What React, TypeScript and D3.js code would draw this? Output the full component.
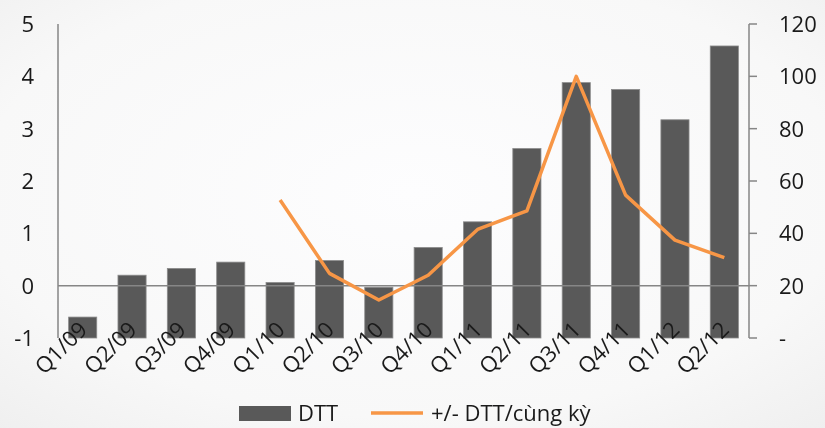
import * as d3 from "d3"

const quarters = ["Q1/09", "Q2/09", "Q3/09", "Q4/09", "Q1/10", "Q2/10", "Q3/10", "Q4/10", "Q1/11", "Q2/11", "Q3/11", "Q4/11", "Q1/12", "Q2/12"]
// DTT (left axis)
const dtt = [-0.6, 0.2, 0.33, 0.45, 0.06, 0.48, -0.03, 0.73, 1.22, 2.62, 3.88, 3.75, 3.17, 4.58]
// +/- DTT/cùng kỳ (right axis), starts at Q1/10
const growth: (number | null)[] = [null, null, null, null, 52.7, 24.7, 14.5, 24, 41.5, 48.6, 100, 54.6, 37.4, 30.7]
const leftTicks = [-1, 0, 1, 2, 3, 4, 5]
const rightTicks = [0, 20, 40, 60, 80, 100, 120]

const W = 825
const H = 428
const margin = { top: 24, right: 76, bottom: 90, left: 58 }
const FONT = "'Open Sans', 'DejaVu Sans', sans-serif"
const BAR = "#595959"
const ORANGE = "#F79646"
const AXIS = "#868686"

export default function App() {
  const x = d3
    .scaleBand()
    .domain(quarters)
    .range([margin.left, W - margin.right])
    .paddingInner(0.43)
    .paddingOuter(0.215)
  const yL = d3.scaleLinear().domain([-1, 5]).range([H - margin.bottom, margin.top])
  const yR = d3.scaleLinear().domain([0, 120]).range([H - margin.bottom, margin.top])

  const pts = quarters.map((q, i) => ({ q, v: growth[i] })).filter((d) => d.v !== null) as { q: string; v: number }[]
  const line = d3
    .line<{ q: string; v: number }>()
    .x((d) => (x(d.q) ?? 0) + x.bandwidth() / 2)
    .y((d) => yR(d.v))

  const x0 = margin.left
  const x1 = W - margin.right
  const yBase = yL(-1)

  return (
    <div style={{ position: "fixed", left: 0, top: 0 }}>
      <svg width={W} height={H} style={{ display: "block", fontFamily: FONT }}>
        <defs>
          <radialGradient id="bg" cx="50%" cy="45%" r="75%">
            <stop offset="0%" stopColor="#fdfdfe" />
            <stop offset="70%" stopColor="#f8f8f8" />
            <stop offset="100%" stopColor="#efefef" />
          </radialGradient>
        </defs>
        <rect width={W} height={H} fill="url(#bg)" />

        {/* bars */}
        {quarters.map((q, i) => {
          const top = yL(dtt[i])
          return (
            <rect
              key={q}
              x={x(q)}
              y={Math.min(top, yBase)}
              width={x.bandwidth()}
              height={Math.abs(yBase - top)}
              fill={BAR}
              stroke="#8c8c8c"
              strokeWidth={0.8}
            />
          )
        })}

        {/* zero line */}
        <line x1={x0} x2={x1} y1={yL(0)} y2={yL(0)} stroke={AXIS} strokeWidth={1.5} />

        {/* left axis */}
        <line x1={x0} x2={x0} y1={yL(5)} y2={yL(-1)} stroke={AXIS} strokeWidth={1.5} />
        {leftTicks.map((t) => (
          <text key={t} x={34} y={yL(t)} dy="0.36em" textAnchor="end" fontSize={22} fill="#1a1a1a">
            {t}
          </text>
        ))}

        {/* right axis */}
        <line x1={x1} x2={x1} y1={yR(120)} y2={yR(0)} stroke={AXIS} strokeWidth={1.5} />
        {rightTicks.map((t) => (
          <g key={t}>
            <line x1={x1} x2={x1 + 8} y1={yR(t)} y2={yR(t)} stroke={AXIS} strokeWidth={1.5} />
            <text x={779} y={yR(t)} dy="0.36em" textAnchor="start" fontSize={22} fill="#1a1a1a">
              {t === 0 ? "-" : t}
            </text>
          </g>
        ))}

        {/* growth line */}
        <path d={line(pts) ?? ""} fill="none" stroke={ORANGE} strokeWidth={3.5} strokeLinejoin="round" />

        {/* x labels */}
        {quarters.map((q) => {
          const cx = (x(q) ?? 0) + x.bandwidth() / 2
          return (
            <text
              key={q}
              transform={`translate(${cx + 6},${yBase - 7}) rotate(-45)`}
              textAnchor="end"
              fontSize={22}
              fill="#1a1a1a"
            >
              {q}
            </text>
          )
        })}

        {/* legend */}
        <rect x={239} y={406} width={52} height={15} fill={BAR} />
        <text x={298} y={413} dy="0.36em" fontSize={22} fill="#1a1a1a">
          DTT
        </text>
        <line x1={371} x2={423} y1={413} y2={413} stroke={ORANGE} strokeWidth={3.5} />
        <text x={431} y={413} dy="0.36em" fontSize={22} fill="#1a1a1a">
          +/- DTT/cùng kỳ
        </text>
      </svg>
    </div>
  )
}
